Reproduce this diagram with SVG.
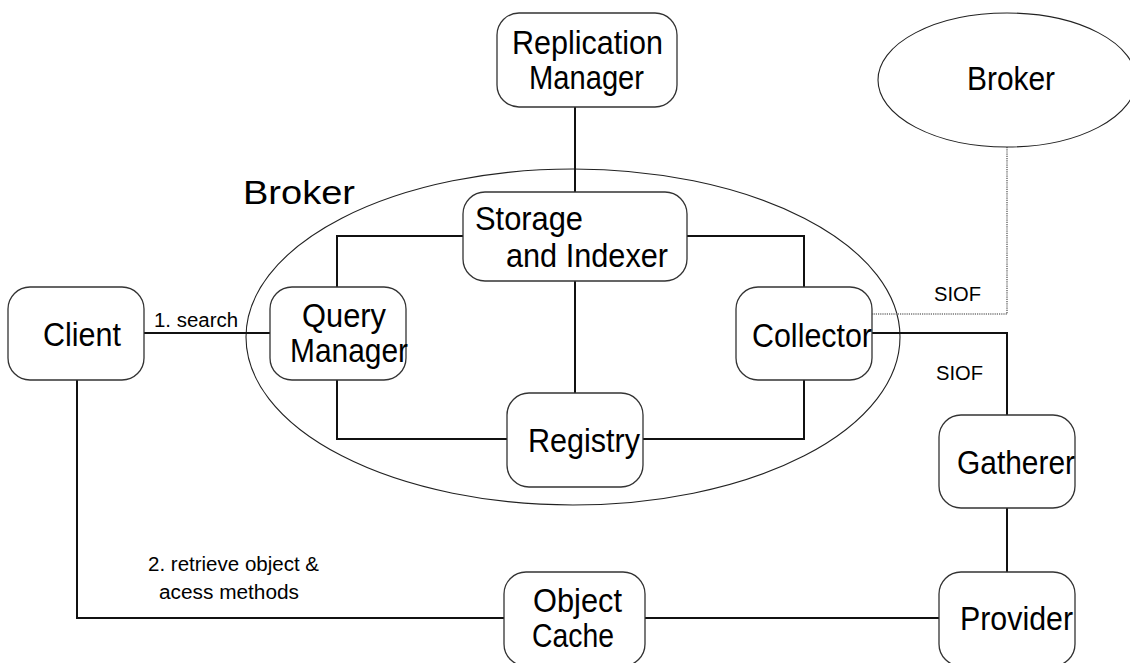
<svg xmlns="http://www.w3.org/2000/svg" width="1130" height="663" viewBox="0 0 1130 663">
  <style>
    .box { fill: #ffffff; stroke: #333333; stroke-width: 1.3; }
    .oval { fill: none; stroke: #222222; stroke-width: 1.1; }
    .wire { fill: none; stroke: #111111; stroke-width: 2; }
    .dotted { fill: none; stroke: #777777; stroke-width: 1.6; stroke-dasharray: 1.2 1; }
    .lbl { font-family: "Liberation Sans", Arial, sans-serif; font-size: 34px; fill: #000000; }
    .small { font-family: "Liberation Sans", Arial, sans-serif; font-size: 20px; fill: #000000; }
  </style>

  <rect width="1130" height="663" fill="#ffffff"/>

  <!-- broker boundary -->
  <g id="broker-boundary">
    <ellipse class="oval" cx="573" cy="337" rx="327" ry="168"/>
    <text class="lbl" x="243" y="204" font-size="38" textLength="112" lengthAdjust="spacingAndGlyphs">Broker</text>
  </g>

  <!-- connectors -->
  <g id="connectors">
    <path class="wire" d="M575 107 V192"/>
    <path class="wire" d="M575 281 V393"/>
    <path class="wire" d="M463 236 H337 V287"/>
    <path class="wire" d="M687 236 H804 V287"/>
    <path class="wire" d="M337 380 V439 H507"/>
    <path class="wire" d="M643 439 H804 V380"/>
    <path class="wire" d="M144 333 H270"/>
    <path class="wire" d="M872 333 H1007 V415"/>
    <path class="wire" d="M1007 508 V572"/>
    <path class="wire" d="M77 380 V618 H504"/>
    <path class="wire" d="M645 618 H939"/>
    <path class="dotted" d="M1007 147 V314 H872"/>
    <text class="small" x="154" y="327" textLength="84" lengthAdjust="spacingAndGlyphs">1. search</text>
    <text class="small" x="934" y="301" textLength="47" lengthAdjust="spacingAndGlyphs">SIOF</text>
    <text class="small" x="936" y="380" textLength="47" lengthAdjust="spacingAndGlyphs">SIOF</text>
    <text class="small" x="148" y="571" textLength="171" lengthAdjust="spacingAndGlyphs">2. retrieve object &amp;</text>
    <text class="small" x="159" y="599" textLength="140" lengthAdjust="spacingAndGlyphs">acess methods</text>
  </g>

  <g id="replication-manager">
    <rect class="box" x="497" y="13" width="180" height="94" rx="22"/>
    <text class="lbl" x="512" y="54" textLength="151" lengthAdjust="spacingAndGlyphs">Replication</text>
    <text class="lbl" x="529" y="89" textLength="115" lengthAdjust="spacingAndGlyphs">Manager</text>
  </g>

  <g id="remote-broker">
    <ellipse class="oval" cx="1007" cy="80" rx="129" ry="67"/>
    <text class="lbl" x="967" y="90" textLength="88" lengthAdjust="spacingAndGlyphs">Broker</text>
  </g>

  <g id="storage-indexer">
    <rect class="box" x="463" y="192" width="224" height="89" rx="22"/>
    <text class="lbl" x="475" y="230" textLength="108" lengthAdjust="spacingAndGlyphs">Storage</text>
    <text class="lbl" x="506" y="267" textLength="162" lengthAdjust="spacingAndGlyphs">and Indexer</text>
  </g>

  <g id="client">
    <rect class="box" x="8" y="287" width="136" height="93" rx="22"/>
    <text class="lbl" x="43" y="346" textLength="78" lengthAdjust="spacingAndGlyphs">Client</text>
  </g>

  <g id="query-manager">
    <rect class="box" x="270" y="287" width="136" height="93" rx="22"/>
    <text class="lbl" x="302" y="327" textLength="84" lengthAdjust="spacingAndGlyphs">Query</text>
    <text class="lbl" x="290" y="362" textLength="118" lengthAdjust="spacingAndGlyphs">Manager</text>
  </g>

  <g id="collector">
    <rect class="box" x="736" y="287" width="136" height="93" rx="22"/>
    <text class="lbl" x="752" y="347" textLength="120" lengthAdjust="spacingAndGlyphs">Collector</text>
  </g>

  <g id="registry">
    <rect class="box" x="507" y="393" width="136" height="94" rx="22"/>
    <text class="lbl" x="528" y="452" textLength="112" lengthAdjust="spacingAndGlyphs">Registry</text>
  </g>

  <g id="gatherer">
    <rect class="box" x="939" y="415" width="136" height="93" rx="22"/>
    <text class="lbl" x="957" y="474" textLength="118" lengthAdjust="spacingAndGlyphs">Gatherer</text>
  </g>

  <g id="object-cache">
    <rect class="box" x="504" y="572" width="141" height="94" rx="22"/>
    <text class="lbl" x="533" y="612" textLength="89" lengthAdjust="spacingAndGlyphs">Object</text>
    <text class="lbl" x="532" y="647" textLength="82" lengthAdjust="spacingAndGlyphs">Cache</text>
  </g>

  <g id="provider">
    <rect class="box" x="939" y="572" width="136" height="94" rx="22"/>
    <text class="lbl" x="960" y="630" textLength="113" lengthAdjust="spacingAndGlyphs">Provider</text>
  </g>
</svg>
